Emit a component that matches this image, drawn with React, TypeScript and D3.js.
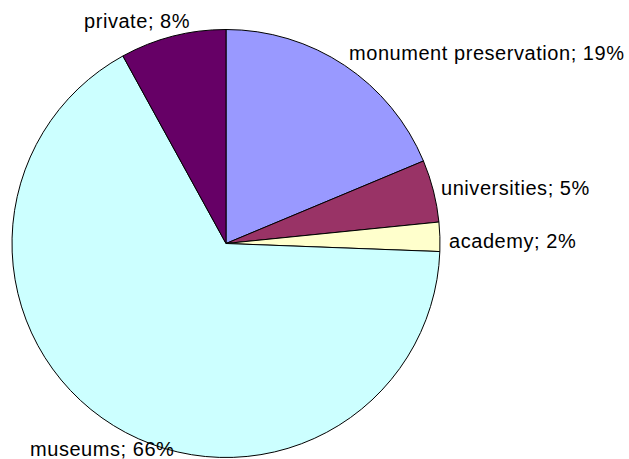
import React from "react";
import * as d3 from "d3";

const categories = ["monument preservation", "universities", "academy", "museums", "private"];
const values = [18.7, 4.7, 2.2, 66.4, 8.0];
const colors = ["#9999FF", "#993366", "#FFFFCC", "#CCFFFF", "#660066"];

// label layout: anchor and position per slice
const labelLayout = [
  { x: 349, y: 60, anchor: "start" },
  { x: 441, y: 195, anchor: "start" },
  { x: 449, y: 248, anchor: "start" },
  { x: 30, y: 456, anchor: "start" },
  { x: 84, y: 28, anchor: "start" },
];

export default function App() {
  const W = 629, H = 459;
  const cx = 226, cy = 243.5, r = 214;
  const total = d3.sum(values);
  const pie = d3.pie<number>().sort(null).value((d) => d);
  const arcs = pie(values);
  const arc = d3.arc<d3.PieArcDatum<number>>().innerRadius(0).outerRadius(r);
  return (
    <svg width={W} height={H} style={{ position: "absolute", left: 0, top: 0, background: "#fff" }}
      fontFamily="'Liberation Sans', Arial, sans-serif">
      <g transform={`translate(${cx},${cy})`}>
        {arcs.map((a, i) => (
          <path key={i} d={arc(a) || ""} fill={colors[i]} stroke="#000" strokeWidth={1} strokeLinejoin="round" />
        ))}
      </g>
      {arcs.map((a, i) => (
        <text key={i} x={labelLayout[i].x} y={labelLayout[i].y} textAnchor={labelLayout[i].anchor as any}
          fontSize={20} letterSpacing={0.55} fill="#000">
          {`${categories[i]}; ${Math.round((values[i] / total) * 100)}%`}
        </text>
      ))}
    </svg>
  );
}
